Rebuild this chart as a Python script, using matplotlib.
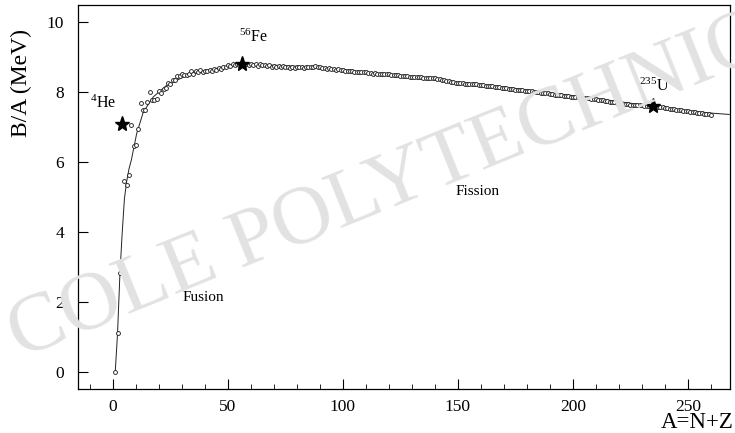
import matplotlib
matplotlib.use("Agg")
import matplotlib.pyplot as plt
from matplotlib.ticker import MultipleLocator

plt.rcParams['font.family'] = ['Liberation Serif', 'DejaVu Serif']
plt.rcParams['mathtext.fontset'] = 'custom'
plt.rcParams['mathtext.rm'] = 'Liberation Serif'
plt.rcParams['mathtext.it'] = 'Liberation Serif:italic'
plt.rcParams['mathtext.bf'] = 'Liberation Serif:bold'

# ---- data ----
mass_number = list(range(1, 261))
binding_per_nucleon = [
    0.00, 1.11, 2.83, 7.07, 5.45, 5.33, 5.61, 7.06, 6.46, 6.48,
    6.93, 7.68, 7.47, 7.48, 7.70, 7.98, 7.75, 7.77, 7.78, 8.03,
    7.97, 8.08, 8.11, 8.26, 8.22, 8.33, 8.33, 8.45, 8.45, 8.52,
    8.48, 8.49, 8.50, 8.58, 8.52, 8.58, 8.57, 8.61, 8.56, 8.60,
    8.58, 8.62, 8.60, 8.66, 8.62, 8.67, 8.66, 8.72, 8.71, 8.76,
    8.74, 8.78, 8.76, 8.78, 8.77, 8.79, 8.77, 8.79, 8.77, 8.78,
    8.77, 8.79, 8.75, 8.78, 8.76, 8.76, 8.73, 8.76, 8.72, 8.73,
    8.72, 8.73, 8.71, 8.73, 8.70, 8.71, 8.69, 8.71, 8.69, 8.71,
    8.70, 8.70, 8.69, 8.72, 8.70, 8.71, 8.71, 8.73, 8.71, 8.71,
    8.69, 8.69, 8.66, 8.67, 8.65, 8.65, 8.62, 8.64, 8.61, 8.61,
    8.59, 8.60, 8.58, 8.58, 8.57, 8.56, 8.55, 8.55, 8.55, 8.55,
    8.54, 8.54, 8.52, 8.53, 8.51, 8.52, 8.50, 8.52, 8.50, 8.50,
    8.49, 8.49, 8.47, 8.47, 8.46, 8.45, 8.45, 8.44, 8.43, 8.43,
    8.42, 8.42, 8.41, 8.41, 8.40, 8.40, 8.39, 8.39, 8.38, 8.38,
    8.35, 8.35, 8.33, 8.33, 8.30, 8.30, 8.28, 8.28, 8.26, 8.26,
    8.24, 8.24, 8.23, 8.23, 8.22, 8.22, 8.21, 8.21, 8.19, 8.19,
    8.18, 8.17, 8.16, 8.16, 8.15, 8.14, 8.13, 8.13, 8.11, 8.11,
    8.10, 8.09, 8.08, 8.07, 8.06, 8.06, 8.05, 8.04, 8.03, 8.02,
    8.01, 8.01, 8.00, 7.99, 7.98, 7.97, 7.96, 7.96, 7.95, 7.94,
    7.93, 7.92, 7.91, 7.91, 7.90, 7.89, 7.88, 7.87, 7.86, 7.86,
    7.85, 7.84, 7.83, 7.83, 7.82, 7.82, 7.81, 7.80, 7.79, 7.78,
    7.77, 7.76, 7.75, 7.74, 7.73, 7.72, 7.71, 7.70, 7.69, 7.68,
    7.67, 7.66, 7.65, 7.64, 7.63, 7.63, 7.62, 7.62, 7.61, 7.61,
    7.60, 7.60, 7.59, 7.59, 7.58, 7.58, 7.57, 7.56, 7.55, 7.54,
    7.53, 7.52, 7.51, 7.50, 7.49, 7.48, 7.47, 7.46, 7.45, 7.44,
    7.43, 7.42, 7.41, 7.40, 7.39, 7.38, 7.37, 7.36, 7.35, 7.33,
]

# smooth curve drawn through the data
curve_A = [1, 2, 3, 4, 5, 6, 7, 8, 10.3, 13.2, 17.5, 23.3, 30.6, 37.8, 45, 52.3,
           56, 62, 70, 80, 90, 100, 110, 125, 146, 168, 190, 210, 235, 250, 260, 268]
curve_BA = [0.0, 1.1, 2.75, 3.95, 4.95, 5.45, 5.8, 6.05, 6.8, 7.42, 7.85, 8.18, 8.42, 8.57,
            8.67, 8.74, 8.77, 8.78, 8.76, 8.73, 8.69, 8.63, 8.56, 8.46, 8.29, 8.15, 7.97,
            7.81, 7.58, 7.46, 7.39, 7.35]

star_A = [4, 56, 235]
star_BA = [7.07, 8.79, 7.59]
star_labels = [r'$^{4}$He', r'$^{56}$Fe', r'$^{235}$U']
label_pos = [(-4.3, 7.67), (61.3, 9.56), (235.5, 8.16)]

region_labels = ['Fusion', 'Fission']
region_pos = [(39.1, 2.11), (158.7, 5.15)]

x_ticks = [0, 50, 100, 150, 200, 250]
y_ticks = [0, 2, 4, 6, 8, 10]

# ---- figure ----
W, H = 735, 433
fig = plt.figure(figsize=(W / 100, H / 100), dpi=100)
ax = fig.add_axes([78 / W, 1 - 389 / H, (730 - 78) / W, (389 - 5) / H])

# watermark
fig.text(20 / W, 1 - 358 / H, 'COLE POLYTECHNIQUE', fontsize=60, color='#e2e2e2',
         rotation=22, rotation_mode='anchor', ha='left', va='baseline', zorder=0)

ax.plot(curve_A, curve_BA, '-', color='#222222', lw=0.7, zorder=2)
ax.plot(mass_number, binding_per_nucleon, 'o', mfc='white', mec='#222222',
        ms=2.8, mew=0.65, zorder=3)
ax.plot(star_A, star_BA, '*', color='black', ms=11, zorder=4)

for lab, (x, y) in zip(star_labels, label_pos):
    ax.text(x, y, lab, fontsize=11.5, ha='center', va='center')
for lab, (x, y) in zip(region_labels, region_pos):
    ax.text(x, y, lab, fontsize=11, ha='center', va='center')

ax.set_xlim(-15.2, 268.3)
ax.set_ylim(-0.5, 10.48)
ax.set_xticks(x_ticks)
ax.set_yticks(y_ticks)
ax.xaxis.set_minor_locator(MultipleLocator(10))
ax.tick_params(axis='both', which='major', direction='in', length=7, width=0.8,
               labelsize=12.5)
ax.tick_params(axis='x', which='major', pad=7)
ax.tick_params(axis='y', which='major', pad=10)
ax.tick_params(axis='x', which='minor', direction='in', length=3.5, width=0.6)
for s in ax.spines.values():
    s.set_linewidth(0.9)

fig.text(21 / W, 1 - 83 / H, 'B/A (MeV)', rotation=90, fontsize=17,
         ha='center', va='center')
fig.text(734 / W, 0 / H, 'A=N+Z', fontsize=16.5, ha='right', va='bottom')

fig.savefig('out.png', dpi=100)
